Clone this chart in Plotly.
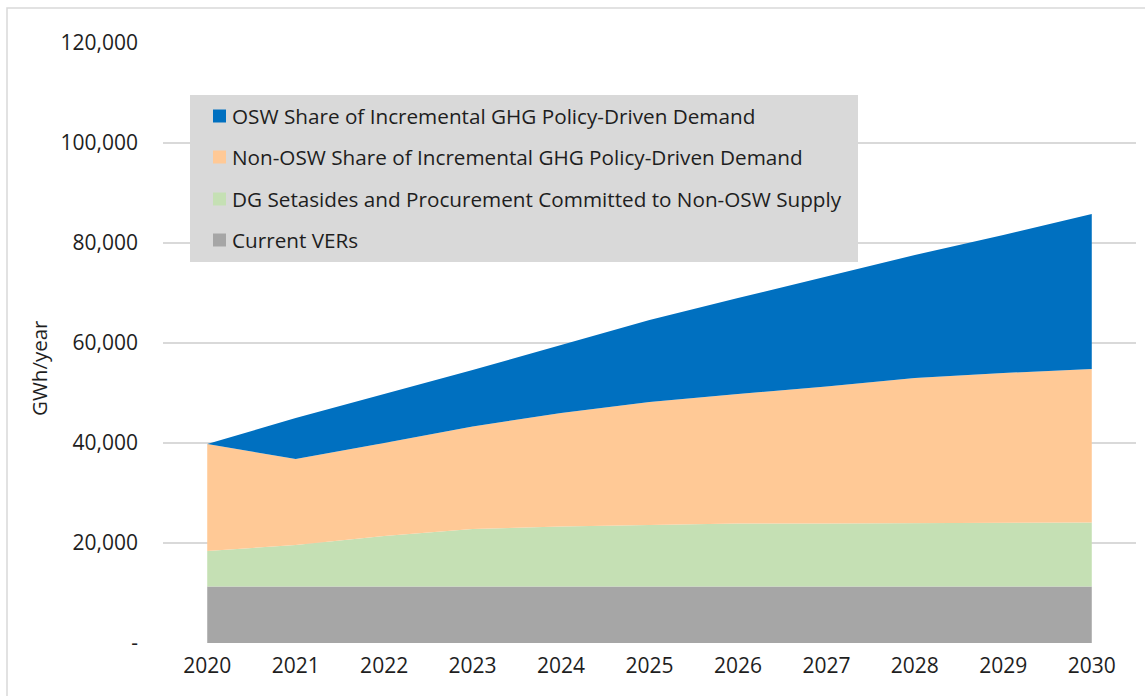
import plotly.graph_objects as go

years = [2020, 2021, 2022, 2023, 2024, 2025, 2026, 2027, 2028, 2029, 2030]
current_vers = [11300, 11300, 11300, 11300, 11300, 11300, 11300, 11300, 11300, 11300, 11300]
dg_setasides = [7100, 8300, 10100, 11500, 12000, 12300, 12600, 12600, 12700, 12700, 12800]
non_osw_share = [21400, 17200, 18600, 20500, 22700, 24600, 25900, 27400, 29000, 30000, 30700]
osw_share = [0, 8200, 9800, 11300, 13600, 16400, 19200, 22000, 24600, 27600, 31000]

series_names = [
    "OSW Share of Incremental GHG Policy-Driven Demand",
    "Non-OSW Share of Incremental GHG Policy-Driven Demand",
    "DG Setasides and Procurement Committed to Non-OSW Supply",
    "Current VERs",
]
series_colors = ["#0070C0", "#FFC996", "#C5E0B4", "#A6A6A6"]
y_ticks = [0, 20000, 40000, 60000, 80000, 100000, 120000]
y_tick_text = ["-", "20,000", "40,000", "60,000", "80,000", "100,000", "120,000"]

W, H = 1145, 696
L, R, T, B = 163, 9, 43, 53
PW, PH = W - L - R, H - T - B
FONT = "Open Sans"
TEXT = "#1e1e1e"


def px(x):
    return (x - L) / PW


def py(y):
    return 1 - (y - T) / PH


fig = go.Figure()
stack = [
    (series_names[3], current_vers, series_colors[3]),
    (series_names[2], dg_setasides, series_colors[2]),
    (series_names[1], non_osw_share, series_colors[1]),
    (series_names[0], osw_share, series_colors[0]),
]
for name, vals, color in stack:
    fig.add_trace(go.Scatter(
        x=years, y=vals, name=name, stackgroup="one", mode="lines",
        line=dict(width=0, color=color), fillcolor=color, showlegend=False,
        hoverinfo="x+y+name",
    ))

shapes = []
annotations = []

# outer chart border (left and top edges visible)
shapes.append(dict(type="rect", xref="paper", yref="paper",
                   x0=px(7), x1=px(1160), y0=py(8), y1=py(720),
                   line=dict(color="#D9D9D9", width=1.5), fillcolor="rgba(0,0,0,0)",
                   layer="below"))

# legend box
shapes.append(dict(type="rect", xref="paper", yref="paper",
                   x0=px(190), x1=px(858), y0=py(95), y1=py(262),
                   line=dict(width=0), fillcolor="#D9D9D9", layer="above"))
row_y = [116, 157, 199, 240]
for name, color, yy in zip(series_names, series_colors, row_y):
    shapes.append(dict(type="rect", xref="paper", yref="paper",
                       x0=px(213), x1=px(226), y0=py(yy - 6.5), y1=py(yy + 6.5),
                       line=dict(width=0), fillcolor=color, layer="above"))
    annotations.append(dict(text=name, xref="paper", yref="paper",
                            x=px(230), y=py(yy), xanchor="left", yanchor="middle",
                            showarrow=False, font=dict(family=FONT, size=20.7, color=TEXT)))

# y-axis title
annotations.append(dict(text="GWh/year", xref="paper", yref="paper",
                        x=px(39), y=py(368), textangle=-90, showarrow=False,
                        xanchor="center", yanchor="middle",
                        font=dict(family=FONT, size=20.5, color=TEXT)))

fig.update_layout(
    width=W, height=H,
    margin=dict(l=L, r=R, t=T, b=B),
    paper_bgcolor="white", plot_bgcolor="white",
    shapes=shapes, annotations=annotations,
    showlegend=False,
    xaxis=dict(range=[2019.5, 2030.5], tickmode="array", tickvals=years,
               ticktext=[str(y) for y in years], showgrid=False, zeroline=False,
               showline=False, ticks="", ticklabelstandoff=8,
               tickfont=dict(family=FONT, size=21, color=TEXT)),
    yaxis=dict(range=[0, 120000], tickmode="array", tickvals=y_ticks,
               ticktext=y_tick_text, showgrid=True, gridcolor="#D9D9D9", gridwidth=1.5,
               zeroline=False, showline=False, ticks="", ticklabelstandoff=24,
               tickfont=dict(family=FONT, size=21, color=TEXT)),
)

fig.write_html("out.html")
